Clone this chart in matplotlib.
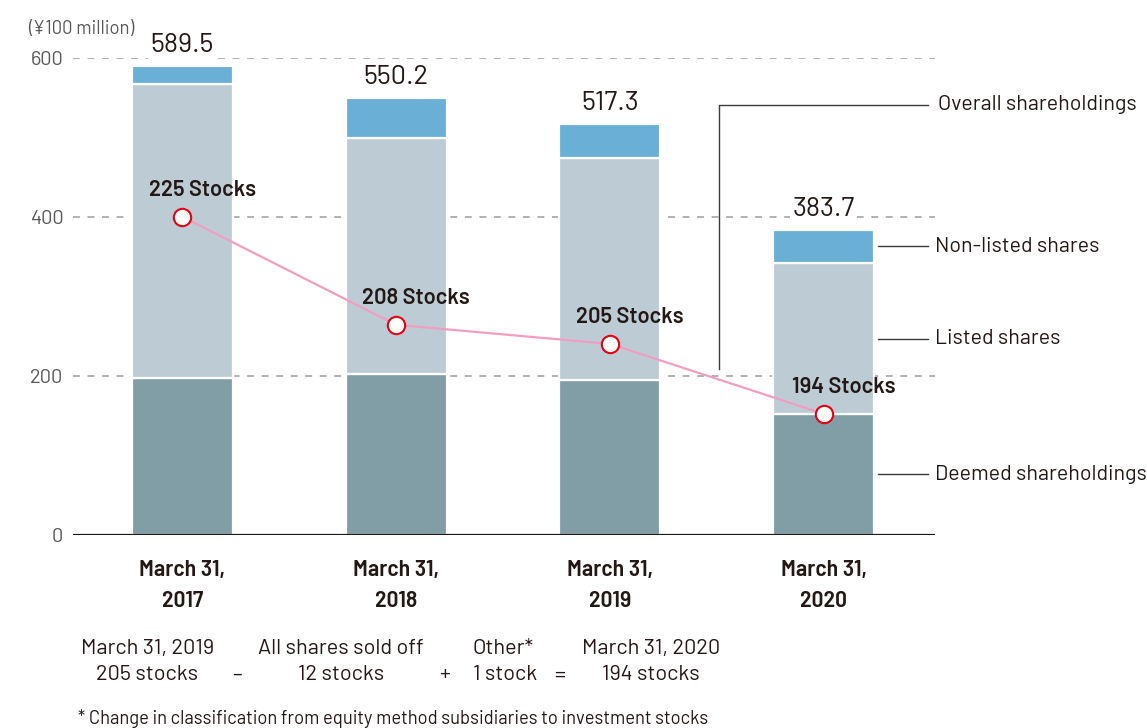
import numpy as np
import matplotlib
matplotlib.use("Agg")
import matplotlib.pyplot as plt

# --- data -------------------------------------------------------------
periods = ["March 31,\n2017", "March 31,\n2018", "March 31,\n2019", "March 31,\n2020"]
deemed = [196.7, 202.5, 194.6, 151.8]          # ¥100 million
listed = [370.7, 297.2, 279.2, 189.8]
non_listed = [22.1, 50.5, 43.5, 42.1]
stock_counts = [225, 208, 205, 194]
y_ticks = [0, 200, 400, 600]

# --- style ------------------------------------------------------------
C_DEEMED = "#819ea6"
C_LISTED = "#bdccd4"
C_NONLISTED = "#6aafd6"
C_LINE = "#f19ec2"
C_MARK = "#e60012"
C_TEXT = "#231815"
C_TICK = "#595757"
C_GRID = "#9d9d9d"

REG = ["Barlow", "Roboto", "DejaVu Sans"]
COND = ["Barlow Semi Condensed", "Roboto Condensed", "DejaVu Sans"]

W, H = 1147, 728
fig = plt.figure(figsize=(W / 100, H / 100), dpi=100)
ax_l, ax_r, ax_b, ax_t = 73, 935, 534.5, 58
ax = fig.add_axes([ax_l / W, 1 - ax_b / H, (ax_r - ax_l) / W, (ax_b - ax_t) / H])

x = np.arange(len(periods))
width = 0.472
deemed_a = np.array(deemed)
listed_a = np.array(listed)
nonlisted_a = np.array(non_listed)
totals = deemed_a + listed_a + nonlisted_a

ax.set_xlim(-0.512, 3.521)
ax.set_ylim(0, 600)

# dashed guide lines
for t in y_ticks[1:]:
    ax.axhline(t, color=C_GRID, lw=1.1, ls=(0, (4.5, 5)), zorder=1)

bar_kw = dict(width=width, edgecolor="white", linewidth=1.6, zorder=2)
ax.bar(x, deemed_a, color=C_DEEMED, **bar_kw)
ax.bar(x, listed_a, bottom=deemed_a, color=C_LISTED, **bar_kw)
ax.bar(x, nonlisted_a, bottom=deemed_a + listed_a, color=C_NONLISTED, **bar_kw)

# totals above the bars
for xi, tot in zip(x, totals):
    ax.annotate(f"{tot:.1f}", (xi, tot), xytext=(0, 6.5), textcoords="offset points",
                ha="center", va="bottom", fontsize=19.5, color=C_TEXT, family=REG,
                bbox=dict(boxstyle="square,pad=0.1", fc="white", ec="none"), zorder=3)

# baseline
ax.axhline(0, color=C_TEXT, lw=1.6, zorder=4)

for s in ax.spines.values():
    s.set_visible(False)
ax.set_yticks(y_ticks)
ax.set_yticklabels([str(t) for t in y_ticks], fontsize=14.5, color=C_TICK, family=REG)
ax.tick_params(axis="y", length=0, pad=7)
ax.set_xticks(x)
ax.set_xticklabels(periods, fontsize=17, fontweight="semibold", color=C_TEXT,
                   family=COND, linespacing=1.68)
ax.tick_params(axis="x", length=0, pad=18.5)

fig.text(28 / W, 1 - 29 / H, "(¥100 million)", ha="left", va="center",
         fontsize=13.3, color=C_TICK, family=REG)

# number of stocks on a hidden secondary scale
ax2 = ax.twinx()
ax2.set_ylim(175, 250)
ax2.axis("off")
ax2.plot(x, stock_counts, color=C_LINE, lw=1.6, zorder=5)
ax2.plot(x, stock_counts, ls="none", marker="o", ms=12.5, mfc="white",
         mec=C_MARK, mew=1.5, zorder=6)
for xi, n in zip(x, stock_counts):
    ax2.annotate(f"{n} Stocks", (xi, n), xytext=(14.5, 19.5), textcoords="offset points",
                 ha="center", va="center", fontsize=15.8, fontweight="semibold",
                 color=C_TEXT, family=REG, zorder=7)

# callout labels for the series
lab_kw = dict(fontsize=15.4, color=C_TEXT, family=REG, va="center", ha="left")
line_kw = dict(color="#3e3a39", lw=1.0, clip_on=False)
last = len(x) - 1
seg_mid = {
    "Non-listed shares": deemed_a[last] + listed_a[last] + nonlisted_a[last] / 2,
    "Listed shares": deemed_a[last] + listed_a[last] / 2,
    "Deemed shareholdings": deemed_a[last] / 2,
}
x0 = last + width / 2 + 0.02
x1 = last + 0.488
for name, ym in seg_mid.items():
    ax.plot([x0, x1], [ym, ym], **line_kw)
    ax.text(x1 + 0.035, ym, name, clip_on=False, **lab_kw)

ov_x = last - 0.488
ov_y = 541
ax.plot([ov_x, ov_x, x1], [208, ov_y, ov_y], **line_kw)
ax.text(x1 + 0.047, ov_y, "Overall shareholdings", clip_on=False, **lab_kw)

# change breakdown underneath
ft = dict(fontsize=15.6, color=C_TEXT, family=REG, ha="center", va="center")
row1 = [(148, "March 31, 2019"), (341, "All shares sold off"), (503, "Other*"), (651, "March 31, 2020")]
row2 = [(147, "205 stocks"), (237, "–"), (341, "12 stocks"), (445, "+"),
        (505, "1 stock"), (560, "="), (651, "194 stocks")]
for px, s in row1:
    fig.text(px / W, 1 - 648 / H, s, **ft)
for px, s in row2:
    fig.text(px / W, 1 - 675 / H, s, **ft)
fig.text(78 / W, 1 - 718 / H,
         "* Change in classification from equity method subsidiaries to investment stocks",
         fontsize=13.2, color=C_TEXT, family=REG, ha="left", va="center")

fig.savefig("out.png", dpi=100, facecolor="white")
